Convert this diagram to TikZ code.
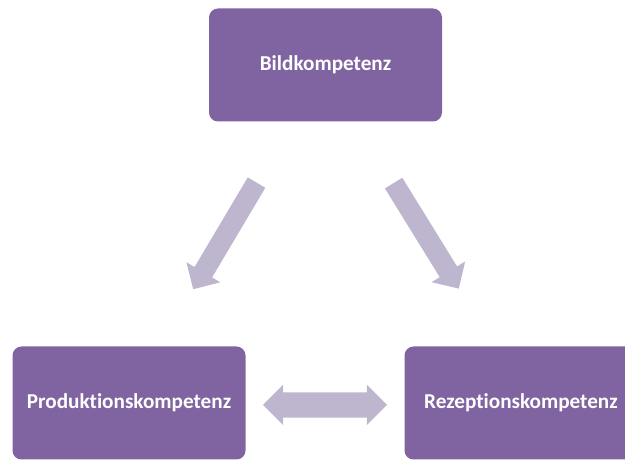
\documentclass[tikz,border=0pt]{standalone}
\usepackage{fontspec}
\setmainfont{Carlito}[Ligatures={NoCommon}]
\usepackage{tikz}
\usetikzlibrary{arrows.meta}
\usetikzlibrary{positioning, shapes.arrows}
\definecolor{boxpurple}{RGB}{128,100,162}
\definecolor{arrowlilac}{RGB}{190,182,207}
\tikzset{
kompetenz/.style = { rectangle, draw = none, fill = boxpurple, text = white, font = \bfseries\fontsize{21.2}{24}\selectfont, minimum width = 233pt, minimum height = 113pt, rounded corners = 9pt, inner sep = 0pt },
einfach pfeil/.style = { single arrow, draw = none, fill = arrowlilac, minimum height = 124pt, single arrow head extend = 9.5pt, inner xsep = 0pt, inner ysep = 10pt },
doppel pfeil/.style = { double arrow, draw = none, fill = arrowlilac, minimum height = 124pt, double arrow head extend = 7.5pt, inner xsep = 0pt, inner ysep = 12.5pt },
}
\begin{document}
\begin{tikzpicture}[x=1pt, y=1pt]
      \useasboundingbox (0,0) rectangle (625,460);
      \begin{scope}
        \node[kompetenz] (bild) at (325.5,395) {Bildkompetenz};
        \node[kompetenz] (prod) at (129,57) {Produktionskompetenz};
        \node[kompetenz] (rez) at (521,57) {Rezeptionskompetenz};
      \end{scope}
      \begin{scope}
        \node[einfach pfeil, rotate=239.3] (bild-prod) at (227.5,228.5) {};
        \node[einfach pfeil, rotate=-58.3] (bild-rez) at (423.5,228.5) {};
        \node[doppel pfeil] (prod-rez) at (325,55) {};
      \end{scope}
    \end{tikzpicture}
\end{document}
